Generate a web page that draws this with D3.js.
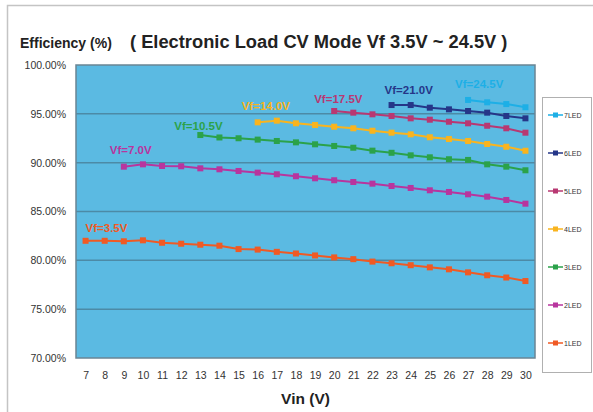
<html>
<meta charset="utf-8">
<script src="https://cdn.jsdelivr.net/npm/d3@7"></script>
<style>
  body { margin: 0; background: white; }
  text { font-family: "Liberation Sans", Arial, sans-serif; }
</style>
<body>
<div id="chart"></div>
<script>

// Vin values on the x axis
var vin = [7,8,9,10,11,12,13,14,15,16,17,18,19,20,21,22,23,24,25,26,27,28,29,30]
var yTicks = [70,75,80,85,90,95,100]

// efficiency (%) per series, starting at the first Vin where it is measured
var led1 = [82.0,82.0,81.95,82.05,81.8,81.7,81.6,81.5,81.15,81.1,80.87,80.7,80.5,80.3,80.12,79.87,79.7,79.5,79.28,79.08,78.77,78.47,78.24,77.88]
var led2 = [89.59,89.83,89.66,89.63,89.42,89.32,89.15,88.98,88.81,88.61,88.4,88.2,88.02,87.85,87.61,87.41,87.17,87.0,86.76,86.52,86.18,85.8]
var led3 = [92.83,92.58,92.5,92.36,92.22,92.08,91.88,91.71,91.53,91.23,91.01,90.75,90.55,90.35,90.28,89.83,89.59,89.22]
var led4 = [94.13,94.3,94.03,93.86,93.68,93.52,93.27,93.07,92.9,92.6,92.42,92.22,91.91,91.63,91.22]
var led5 = [95.29,95.12,94.95,94.78,94.54,94.4,94.19,94.03,93.78,93.52,93.07]
var led6 = [95.9,95.9,95.63,95.46,95.29,95.12,94.78,94.54]
var led7 = [96.42,96.18,96.0,95.67]

var startVin = [7,9,13,16,20,23,27]
var seriesNames = ["1LED","2LED","3LED","4LED","5LED","6LED","7LED"]
var vfLabels = ["Vf=3.5V","Vf=7.0V","Vf=10.5V","Vf=14.0V","Vf=17.5V","Vf=21.0V","Vf=24.5V"]
var colors = ["#f05a24","#b8359e","#2ba24a","#f9b41e","#b83872","#253688","#1dafe6"]

var allSeries = [led1,led2,led3,led4,led5,led6,led7].map(function(vals,i){
  return {name: seriesNames[i], label: vfLabels[i], color: colors[i],
          points: vals.map(function(v,j){ return {x: startVin[i]+j, y: v} })}
})

var W = 593, H = 412
var plot = {left: 76, right: 535, top: 65, bottom: 358}

var svg = d3.select("#chart").append("svg").attr("width",W).attr("height",H)

// outer frame
svg.append("path").attr("d","M7.5,412 V5.5 H593").attr("fill","none").attr("stroke","#c4c4c4").attr("stroke-width",1.5)

var x = d3.scalePoint().domain(vin).range([plot.left, plot.right]).padding(0.5)
var y = d3.scaleLinear().domain([70,100]).range([plot.bottom, plot.top])

svg.append("rect").attr("x",plot.left).attr("y",plot.top)
  .attr("width",plot.right-plot.left).attr("height",plot.bottom-plot.top)
  .attr("fill","#5bbae2")

// gridlines
svg.append("g").selectAll("line").data(yTicks.slice(1,-1)).enter().append("line")
  .attr("x1",plot.left).attr("x2",plot.right)
  .attr("y1",function(d){return y(d)}).attr("y2",function(d){return y(d)})
  .attr("stroke","#4c8aa6").attr("stroke-width",1.5)

svg.append("rect").attr("x",plot.left).attr("y",plot.top)
  .attr("width",plot.right-plot.left).attr("height",plot.bottom-plot.top)
  .attr("fill","none").attr("stroke","#6a8594").attr("stroke-width",1.5)

// y axis labels
var yAxis = d3.axisLeft(y).tickValues(yTicks).tickSize(0).tickPadding(10)
  .tickFormat(function(d){return d3.format(".2f")(d)+"%"})
var ga = svg.append("g").attr("transform","translate("+plot.left+",0)").call(yAxis)
ga.select(".domain").remove()
ga.selectAll("text").attr("font-size","10.5px").attr("fill","#333").attr("font-family","Liberation Sans, Arial")

// x axis labels
var xAxis = d3.axisBottom(x).tickSize(0).tickPadding(14)
var gx = svg.append("g").attr("transform","translate(0,"+plot.bottom+")").call(xAxis)
gx.select(".domain").remove()
gx.selectAll("text").attr("font-size","10.5px").attr("fill","#333").attr("font-family","Liberation Sans, Arial")

svg.append("text").attr("x",(plot.left+plot.right)/2).attr("y",404)
  .attr("text-anchor","middle").attr("font-size","15.5px").attr("font-weight","bold").attr("fill","#222").text("Vin (V)")

// titles
svg.append("text").attr("x",20).attr("y",48).attr("font-size","14px").attr("font-weight","bold").attr("fill","#222").text("Efficiency (%)")
svg.append("text").attr("x",130).attr("y",48).attr("font-size","18.3px").attr("font-weight","bold").attr("fill","#222")
  .text("( Electronic Load CV Mode Vf 3.5V ~ 24.5V )")

// lines and markers
var line = d3.line().x(function(d){return x(d.x)}).y(function(d){return y(d.y)})
var gs = svg.append("g").selectAll("g").data(allSeries).enter().append("g")
gs.append("path").attr("d",function(d){return line(d.points)})
  .attr("fill","none").attr("stroke",function(d){return d.color}).attr("stroke-width",2)
gs.selectAll("rect").data(function(d){return d.points.map(function(p){return {p:p,c:d.color}})}).enter().append("rect")
  .attr("x",function(d){return x(d.p.x)-3}).attr("y",function(d){return y(d.p.y)-3})
  .attr("width",6).attr("height",6).attr("fill",function(d){return d.c})

// Vf labels, nudged from each series' first point
var nudge = [[0,-9],[-14,-13],[-26,-5],[-16,-12],[-20,-8],[-7,-11],[-13,-12]]
gs.append("text")
  .attr("x",function(d,i){return x(d.points[0].x)+nudge[i][0]})
  .attr("y",function(d,i){return y(d.points[0].y)+nudge[i][1]})
  .attr("font-size","11.5px").attr("font-weight","bold")
  .attr("fill",function(d){return d.color}).text(function(d){return d.label})

// legend
var lg = svg.append("g")
lg.append("rect").attr("x",542.5).attr("y",97.5).attr("width",49).attr("height",275)
  .attr("fill","white").attr("stroke","#b0b0b0").attr("stroke-width",1)
var items = lg.selectAll("g").data(allSeries.slice().reverse()).enter().append("g")
  .attr("transform",function(d,i){return "translate(0,"+(115+i*38)+")"})
items.append("line").attr("x1",548).attr("x2",563).attr("stroke",function(d){return d.color}).attr("stroke-width",1.5)
items.append("rect").attr("x",553).attr("y",-2.5).attr("width",5).attr("height",5).attr("fill",function(d){return d.color})
items.append("text").attr("x",564).attr("y",2.5).attr("font-size","7px").attr("fill","#333").text(function(d){return d.name})

</script>
</body>
</html>
